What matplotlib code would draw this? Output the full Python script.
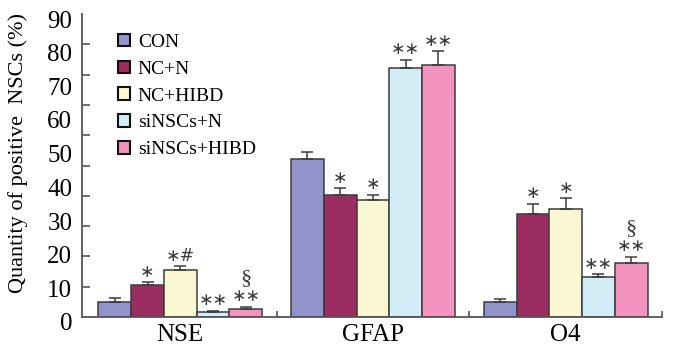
import numpy as np
import matplotlib
matplotlib.use("Agg")
import matplotlib.pyplot as plt
import matplotlib.transforms as mtransforms

categories = ["NSE", "GFAP", "O4"]
groups = ["CON", "NC+N", "NC+HIBD", "siNSCs+N", "siNSCs+HIBD"]
colors = ["#9393cc", "#9a2c60", "#faf8d2", "#d3edf6", "#f294bf"]

values = {
    "CON":         [4.4, 47.0, 4.5],
    "NC+N":        [9.4, 36.1, 30.5],
    "NC+HIBD":     [14.1, 34.9, 32.0],
    "siNSCs+N":    [1.4, 74.1, 11.8],
    "siNSCs+HIBD": [2.5, 74.9, 16.0],
}
errors = {
    "CON":         [1.3, 2.0, 0.7],
    "NC+N":        [1.0, 2.2, 3.1],
    "NC+HIBD":     [1.0, 1.4, 3.2],
    "siNSCs+N":    [0.5, 2.3, 0.9],
    "siNSCs+HIBD": [0.6, 4.0, 1.9],
}
marks = {
    "CON":         ["", "", ""],
    "NC+N":        ["∗", "∗", "∗"],
    "NC+HIBD":     ["∗#", "∗", "∗"],
    "siNSCs+N":    ["∗∗", "∗∗", "∗∗"],
    "siNSCs+HIBD": ["∗∗", "∗∗", "∗∗"],
}
extra_marks = {
    "siNSCs+HIBD": ["§", "", "§"],
}

serif = ["Liberation Serif", "DejaVu Serif"]
plt.rcParams["font.family"] = serif

fig = plt.figure(figsize=(6.73, 3.47), dpi=100)
ax = fig.add_axes([82/673, 1 - 317/347, 580/673, 303/347])

x = np.arange(len(categories))
width = 0.17
n = len(groups)
edge = "#3c3c3c"
for i, g in enumerate(groups):
    xs = x + (i - (n - 1) / 2) * width
    ax.bar(xs, values[g], width, color=colors[i], edgecolor=edge,
           linewidth=1.1, label=g, zorder=2)
    ax.errorbar(xs, values[g], yerr=[np.zeros(len(xs)), errors[g]], fmt="none",
                ecolor=edge, elinewidth=1.1, capsize=4.3, capthick=1.1, zorder=3)
    for j in range(len(xs)):
        top = values[g][j] + errors[g][j]
        if marks[g][j]:
            ax.annotate(marks[g][j], (xs[j], top), xytext=(0, 7.5),
                        textcoords="offset points", ha="center", va="center",
                        fontsize=12.5, color="#3a3a3a", family=["DejaVu Sans"])
        if g in extra_marks and extra_marks[g][j]:
            ax.annotate(extra_marks[g][j], (xs[j], top), xytext=(0, 20),
                        textcoords="offset points", ha="center", va="center",
                        fontsize=16, color="#3a3a3a")

ax.set_xlim(-0.51, 2.5)
ax.set_ylim(0, 90)

ax.spines["top"].set_visible(False)
ax.spines["right"].set_visible(False)
for s in ["left", "bottom"]:
    ax.spines[s].set_color("#555555")
    ax.spines[s].set_linewidth(1.3)

ax.set_yticks(np.arange(0, 91, 10))
ax.set_yticks(np.linspace(0, 90, 11), minor=True)
ax.tick_params(axis="y", which="major", length=0, labelsize=18, pad=7)
ax.tick_params(axis="y", which="minor", direction="in", length=5.5, width=1.2, color="#555555")
off = mtransforms.ScaledTranslation(0, -5/100, fig.dpi_scale_trans)
for lab in ax.get_yticklabels():
    lab.set_transform(lab.get_transform() + off)

ax.set_xticks(x)
ax.set_xticklabels(categories)
ax.set_xticks([0.5, 1.5, 2.5], minor=True)
ax.tick_params(axis="x", which="major", length=0, labelsize=18, pad=5)
ax.tick_params(axis="x", which="minor", direction="in", length=4, width=1.2, color="#555555")

ax.set_ylabel("Quantity of positive  NSCs (%)", fontsize=16)
ax.yaxis.set_label_coords(-0.093, 0.54)

leg = ax.legend(loc="upper left", bbox_to_anchor=(0.062, 0.935), frameon=False,
                fontsize=14, handlelength=0.62, handleheight=0.62,
                handletextpad=0.4, labelspacing=0.5, borderpad=0, borderaxespad=0)
for h in leg.legend_handles:
    h.set_edgecolor("#111111")
    h.set_linewidth(1.5)

fig.savefig("out.png", dpi=100)
